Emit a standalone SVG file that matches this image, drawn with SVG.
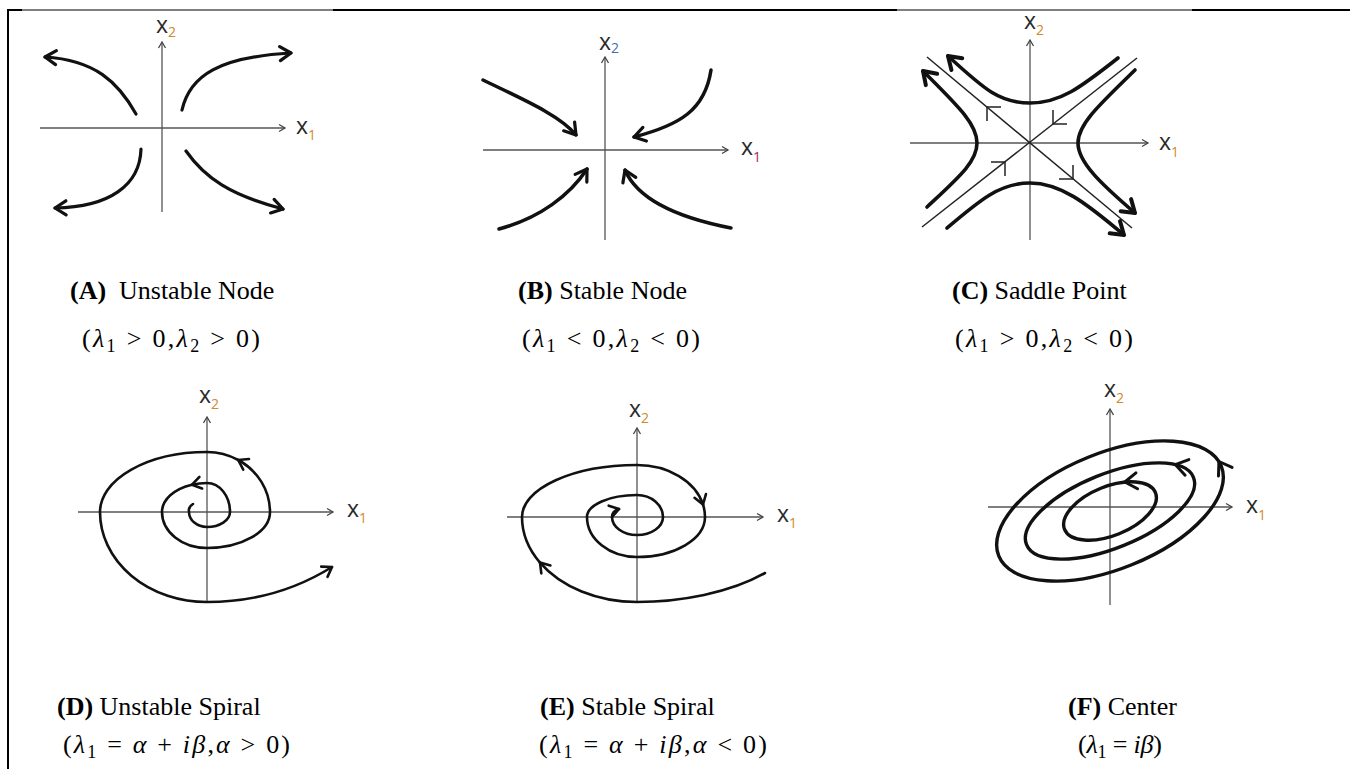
<svg xmlns="http://www.w3.org/2000/svg" width="1350" height="769" viewBox="0 0 1350 769">
<style>
.ax{stroke:#555;stroke-width:1.3;fill:none;marker-end:url(#axh)}
.cv{stroke:#111;fill:none;stroke-linecap:round}
.tk{stroke:#222;stroke-width:1.5;fill:none}
.lx{font-family:"Open Sans","DejaVu Sans",sans-serif;font-size:23px;fill:#2a2a2a}
.sb{font-size:14px;fill:#d08a28}
.sb2{font-size:14px;fill:#3f6fb0}
.sb3{font-size:14px;fill:#a0304a}
.tt{font-family:"Liberation Serif","Times New Roman",serif;font-size:26px;fill:#000}
.mt{font-family:"Liberation Serif","Times New Roman",serif;font-size:26px;fill:#000}
.it{font-style:italic}
.ss{font-size:18px}
</style>
<defs>
<marker id="axh" viewBox="-8 -5 10 10" refX="0" refY="0" markerWidth="10" markerHeight="10" markerUnits="userSpaceOnUse" orient="auto" overflow="visible"><path d="M-6,-3.5 L0,0 L-6,3.5" fill="none" stroke="#444" stroke-width="1.3"/></marker>
<marker id="ha" viewBox="-14 -10 18 20" refX="0" refY="0" markerWidth="18" markerHeight="20" markerUnits="userSpaceOnUse" orient="auto" overflow="visible"><path d="M-11,-7 L0,0 L-11,7" fill="none" stroke="#111" stroke-width="3.2" stroke-linecap="round" stroke-linejoin="round"/></marker>
<marker id="hc" viewBox="-16 -11 20 22" refX="0" refY="0" markerWidth="20" markerHeight="22" markerUnits="userSpaceOnUse" orient="auto" overflow="visible"><path d="M-12,-8 L0,0 L-12,8" fill="none" stroke="#111" stroke-width="4" stroke-linecap="round" stroke-linejoin="round"/></marker>
<marker id="hd" viewBox="-12 -8 14 16" refX="0" refY="0" markerWidth="14" markerHeight="16" markerUnits="userSpaceOnUse" orient="auto" overflow="visible"><path d="M-9,-6 L0,0 L-9,6" fill="none" stroke="#111" stroke-width="2.6" stroke-linecap="round" stroke-linejoin="round"/></marker>
<marker id="hf" viewBox="-15 -10 18 20" refX="0" refY="0" markerWidth="18" markerHeight="20" markerUnits="userSpaceOnUse" orient="auto" overflow="visible"><path d="M-12,-8 L0,0 L-12,8" fill="none" stroke="#111" stroke-width="3" stroke-linecap="round" stroke-linejoin="round"/></marker>
</defs>
<rect x="0" y="0" width="1350" height="769" fill="#fff"/>
<g id="frame" stroke="#000" fill="none">
<line x1="8" y1="9" x2="8" y2="769" stroke-width="2"/>
<line x1="7" y1="10" x2="22" y2="10" stroke-width="2"/>
<line x1="22" y1="10" x2="333" y2="10" stroke-width="1"/>
<line x1="333" y1="10" x2="897" y2="10" stroke-width="2"/>
<line x1="897" y1="10" x2="1192" y2="10" stroke-width="1"/>
<line x1="1192" y1="10" x2="1350" y2="10" stroke-width="2"/>
</g>

<g id="panelA">
<line class="ax" x1="162" y1="212" x2="162" y2="42"/>
<line class="ax" x1="40" y1="128" x2="285" y2="128"/>
<text class="lx" x="156" y="33">x<tspan class="sb" dy="4">2</tspan></text>
<text class="lx" x="296" y="134">x<tspan class="sb" dy="6">1</tspan></text>
<g class="cv" stroke-width="3.2" marker-end="url(#ha)">
<path d="M136,114 C118,82 95,60 45,57"/>
<path d="M182,110 C190,75 220,57 291,53"/>
<path d="M141,149 C140,185 110,207 55,208"/>
<path d="M186,151 C205,178 230,195 283,209"/>
</g>
</g>

<g id="panelB">
<line class="ax" x1="605" y1="240" x2="605" y2="57"/>
<line class="ax" x1="483" y1="150" x2="728" y2="150"/>
<text class="lx" x="599" y="50">x<tspan class="sb2" dy="3">2</tspan></text>
<text class="lx" x="741" y="155">x<tspan class="sb3" dy="7">1</tspan></text>
<g class="cv" stroke-width="3.5" marker-end="url(#ha)">
<path d="M483,80 C520,98 560,115 576,135"/>
<path d="M711,70 C705,110 680,125 634,137"/>
<path d="M499,229 C540,218 570,195 587,169"/>
<path d="M731,228 C690,220 640,205 625,170"/>
</g>
</g>

<g id="panelC">
<line class="ax" x1="1030" y1="240" x2="1030" y2="40"/>
<line class="ax" x1="910" y1="143" x2="1148" y2="143"/>
<text class="lx" x="1024" y="29" font-size="24">x<tspan class="sb" dy="6" font-size="15">2</tspan></text>
<text class="lx" x="1159" y="150" font-size="24">x<tspan class="sb" dy="7" font-size="15">1</tspan></text>
<line x1="927" y1="57" x2="1132" y2="228" stroke="#222" stroke-width="1.5"/>
<line x1="922" y1="227" x2="1137" y2="58" stroke="#222" stroke-width="1.5"/>
<path class="tk" d="M1001,107 L987,107 L987,121"/>
<path class="tk" d="M1059,179 L1073,179 L1073,165"/>
<path class="tk" d="M991,162 L1005,162 L1005,176"/>
<path class="tk" d="M1053,110 L1053,124 L1067,124"/>
<g class="cv" stroke-width="3.6">
<path d="M1118,58 C1080,88 1060,103 1030,103 C1000,103 985,90 948,56" marker-end="url(#hc)"/>
<path d="M947,228 C980,200 1000,183 1030,183 C1060,183 1085,202 1124,235" marker-end="url(#hc)"/>
<path d="M927,207 C958,178 977,162 977,143 C977,124 958,106 923,71" marker-end="url(#hc)"/>
<path d="M1135,70 C1100,104 1078,124 1078,143 C1078,162 1100,183 1135,213" marker-end="url(#hc)"/>
</g>
</g>

<g id="panelD">
<line class="ax" x1="207" y1="603" x2="207" y2="417"/>
<line class="ax" x1="78" y1="512" x2="333" y2="512"/>
<text class="lx" x="199" y="403">x<tspan class="sb" dy="6">2</tspan></text>
<text class="lx" x="347" y="517">x<tspan class="sb" dy="6">1</tspan></text>
<g class="cv" stroke-width="2.6" marker-end="url(#hd)">
<path d="M193,504 Q188,507 189,512 A18,15 0 0 0 207,527 A23,15 0 0 0 230,512 A23,29 0 0 0 207,483 A45,29 0 0 0 192,484.7"/>
<path d="M192,484.7 A45,29 0 0 0 162,512 A45,36 0 0 0 207,548 A63,36 0 0 0 270,512 A63,60 0 0 0 238.2,460"/>
<path d="M238.2,460 A63,60 0 0 0 207,452 A107,60 0 0 0 100,512 A107,90 0 0 0 207,602 C255,602 295,590 332,567"/>
</g>
</g>

<g id="panelE">
<line class="ax" x1="637" y1="603" x2="637" y2="428"/>
<line class="ax" x1="507" y1="517" x2="763" y2="517"/>
<text class="lx" x="629" y="417">x<tspan class="sb" dy="6">2</tspan></text>
<text class="lx" x="777" y="522">x<tspan class="sb" dy="6">1</tspan></text>
<g class="cv" stroke-width="2.6" marker-end="url(#hd)">
<path d="M765,573 C730,593 680,602 637,602 A115,85 0 0 1 540,562.6"/>
<path d="M540,562.6 A115,85 0 0 1 522,517 A115,52 0 0 1 637,465 A68,52 0 0 1 703,504.5"/>
<path d="M703,504.5 A68,52 0 0 1 705,517 A68,40 0 0 1 637,557 A50,40 0 0 1 587,517 A50,22 0 0 1 637,495 A26,22 0 0 1 663,517 A26,18 0 0 1 637,535 A25,18 0 0 1 612,517 Q612,511 619,509"/>
</g>
</g>

<g id="panelF">
<line class="ax" x1="1110" y1="605" x2="1110" y2="409"/>
<line class="ax" x1="988" y1="507" x2="1232" y2="507"/>
<text class="lx" x="1104" y="397">x<tspan class="sb" dy="6">2</tspan></text>
<text class="lx" x="1246" y="513">x<tspan class="sb" dy="7">1</tspan></text>
<g class="cv" stroke-width="3.4">
<ellipse cx="1110" cy="511" rx="120" ry="58" transform="rotate(-22 1110 511)"/>
<ellipse cx="1110" cy="511" rx="90" ry="37" transform="rotate(-22 1110 511)"/>
<ellipse cx="1110" cy="511" rx="49" ry="24.5" transform="rotate(-22 1110 511)"/>
</g>
<g fill="none" stroke="none" marker-end="url(#hf)">
<path d="M1130.8,481.4 L1124.8,482"/>
<path d="M1181.1,466 L1175.3,464.6"/>
<path d="M1222.1,466.6 L1218.9,461.5"/>
</g>
</g>

<g id="labels">
<text class="tt" x="70" y="299"><tspan font-weight="bold">(A)</tspan><tspan x="119">Unstable Node</tspan></text>
<text class="mt" x="82" y="347" textLength="178" lengthAdjust="spacing">(<tspan class="it">λ</tspan><tspan class="ss" dy="5">1</tspan><tspan dy="-5"> &gt; 0,</tspan><tspan class="it">λ</tspan><tspan class="ss" dy="5">2</tspan><tspan dy="-5"> &gt; 0)</tspan></text>
<text class="tt" x="518" y="299"><tspan font-weight="bold">(B)</tspan> Stable Node</text>
<text class="mt" x="522" y="347" textLength="178" lengthAdjust="spacing">(<tspan class="it">λ</tspan><tspan class="ss" dy="5">1</tspan><tspan dy="-5"> &lt; 0,</tspan><tspan class="it">λ</tspan><tspan class="ss" dy="5">2</tspan><tspan dy="-5"> &lt; 0)</tspan></text>
<text class="tt" x="952" y="299"><tspan font-weight="bold">(C)</tspan> Saddle Point</text>
<text class="mt" x="955" y="347" textLength="178" lengthAdjust="spacing">(<tspan class="it">λ</tspan><tspan class="ss" dy="5">1</tspan><tspan dy="-5"> &gt; 0,</tspan><tspan class="it">λ</tspan><tspan class="ss" dy="5">2</tspan><tspan dy="-5"> &lt; 0)</tspan></text>
<text class="tt" x="57" y="715"><tspan font-weight="bold">(D)</tspan> Unstable Spiral</text>
<text class="mt" x="63" y="753" textLength="227" lengthAdjust="spacing">(<tspan class="it">λ</tspan><tspan class="ss" dy="5">1</tspan><tspan dy="-5"> = </tspan><tspan class="it">α</tspan> + <tspan class="it">iβ</tspan>,<tspan class="it">α</tspan> &gt; 0)</text>
<text class="tt" x="540" y="715"><tspan font-weight="bold">(E)</tspan> Stable Spiral</text>
<text class="mt" x="539" y="753" textLength="228" lengthAdjust="spacing">(<tspan class="it">λ</tspan><tspan class="ss" dy="5">1</tspan><tspan dy="-5"> = </tspan><tspan class="it">α</tspan> + <tspan class="it">iβ</tspan>,<tspan class="it">α</tspan> &lt; 0)</text>
<text class="tt" x="1068" y="715"><tspan font-weight="bold">(F)</tspan> Center</text>
<text class="mt" x="1078" y="753" textLength="84" lengthAdjust="spacing">(<tspan class="it">λ</tspan><tspan class="ss" dy="5">1</tspan><tspan dy="-5"> = </tspan><tspan class="it">iβ</tspan>)</text>
</g>
</svg>
